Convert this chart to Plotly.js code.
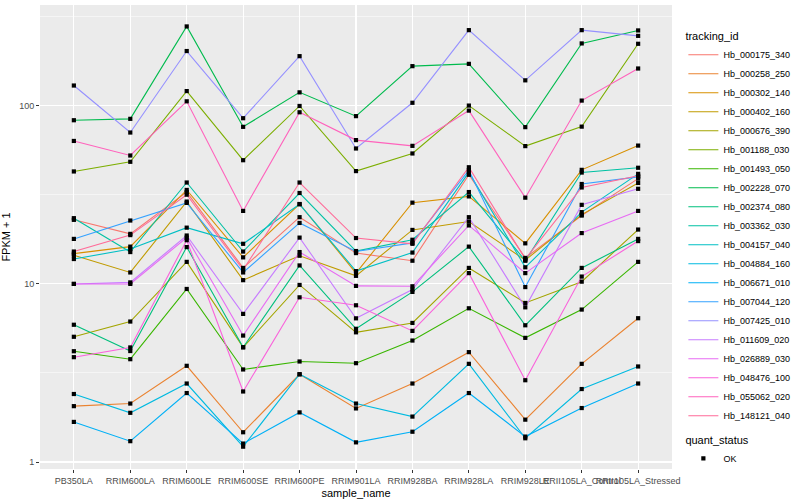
<!DOCTYPE html>
<html>
<head>
<meta charset="utf-8">
<script src="https://cdn.plot.ly/plotly-3.0.1.min.js"></script>
<style>
  html, body { margin: 0; padding: 0; background: #ffffff; }
  #chart { width: 800px; height: 500px; }
</style>
</head>
<body>
<div id="chart"></div>
<script>
// ---- Data (FPKM + 1) ----
const samples = ["PB350LA", "RRIM600LA", "RRIM600LE", "RRIM600SE", "RRIM600PE", "RRIM901LA",
                 "RRIM928BA", "RRIM928LA", "RRIM928LE", "RRII105LA_Control", "RRII105LA_Stressed"];

const trackingIds = ["Hb_000175_340", "Hb_000258_250", "Hb_000302_140", "Hb_000402_160", "Hb_000676_390",
                     "Hb_001188_030", "Hb_001493_050", "Hb_002228_070", "Hb_002374_080", "Hb_003362_030",
                     "Hb_004157_040", "Hb_004884_160", "Hb_006671_010", "Hb_007044_120", "Hb_007425_010",
                     "Hb_011609_020", "Hb_026889_030", "Hb_048476_100", "Hb_055062_020", "Hb_148121_040"];

const seriesColors = ["#F8766D", "#EA8331", "#D89000", "#C09B00", "#A3A500",
                      "#7CAE00", "#39B600", "#00BB4E", "#00BF7D", "#00C1A3",
                      "#00BFC4", "#00BAE0", "#00B0F6", "#35A2FF", "#9590FF",
                      "#C77CFF", "#E76BF3", "#FA62DB", "#FF62BC", "#FF6A98"];

const Hb_000175_340 = [22.9, 19.1, 32.8, 12.3, 23.7, 14.9, 13.5, 41.0, 14.0, 24.2, 39.0];
const Hb_000258_250 = [2.06, 2.13, 3.47, 1.47, 3.11, 2.0, 2.76, 4.14, 1.73, 3.56, 6.42];
const Hb_000302_140 = [14.8, 16.2, 33.7, 14.1, 28.1, 11.5, 28.6, 31.0, 16.9, 43.7, 59.8];
const Hb_000402_160 = [14.5, 11.6, 29.0, 10.5, 14.4, 11.1, 20.1, 22.4, 13.6, 24.5, 36.9];
const Hb_000676_390 = [5.05, 6.15, 13.3, 4.41, 9.87, 5.35, 6.04, 12.3, 7.82, 10.3, 20.2];
const Hb_001188_030 = [42.8, 48.5, 121, 49.5, 99.8, 43.0, 54.0, 100.3, 59.4, 76.4, 223];
const Hb_001493_050 = [4.19, 3.78, 9.37, 3.31, 3.67, 3.59, 4.81, 7.3, 4.98, 7.18, 13.3];
const Hb_002228_070 = [83, 84.5, 279, 76.2, 119, 87.5, 167, 172, 75.9, 224, 265];
const Hb_002374_080 = [5.9, 4.2, 16.1, 4.41, 12.7, 5.6, 9.02, 16.2, 5.86, 12.3, 17.9];
const Hb_003362_030 = [23.4, 15.1, 37.1, 15.2, 32.4, 15.3, 17.7, 32.8, 13.5, 42.2, 44.9];
const Hb_004157_040 = [13.8, 15.7, 20.7, 16.8, 28.0, 11.8, 15.0, 42.3, 12.4, 25.3, 41.5];
const Hb_004884_160 = [2.41, 1.89, 2.76, 1.22, 3.11, 2.13, 1.8, 3.56, 1.36, 2.57, 3.44];
const Hb_006671_010 = [1.68, 1.31, 2.44, 1.27, 1.9, 1.29, 1.48, 2.44, 1.39, 2.01, 2.76];
const Hb_007044_120 = [17.9, 22.7, 28.5, 11.6, 22.0, 15.2, 17.0, 43.5, 9.6, 36.4, 39.9];
const Hb_007425_010 = [130, 70.8, 203, 85.2, 190, 57.6, 104, 266, 139, 266, 247];
const Hb_011609_020 = [10.0, 10.2, 18.7, 6.79, 18.2, 6.41, 9.3, 23.7, 7.39, 27.8, 34.2];
const Hb_026889_030 = [10.0, 10.0, 18.2, 5.13, 15.1, 9.75, 9.7, 21.3, 11.5, 19.3, 25.7];
const Hb_048476_100 = [3.88, 4.4, 17.6, 2.49, 8.41, 7.59, 5.45, 11.5, 2.88, 11.0, 17.4];
const Hb_055062_020 = [63.5, 52.6, 106, 25.7, 92, 64.2, 59.6, 94, 30.5, 107, 162];
const Hb_148121_040 = [15.2, 18.8, 31.7, 12.0, 37.1, 18.1, 16.8, 45.2, 13.8, 34.8, 40.5];

const seriesValues = [Hb_000175_340, Hb_000258_250, Hb_000302_140, Hb_000402_160, Hb_000676_390,
                      Hb_001188_030, Hb_001493_050, Hb_002228_070, Hb_002374_080, Hb_003362_030,
                      Hb_004157_040, Hb_004884_160, Hb_006671_010, Hb_007044_120, Hb_007425_010,
                      Hb_011609_020, Hb_026889_030, Hb_048476_100, Hb_055062_020, Hb_148121_040];

const statusName = "OK";
const yTickVals = [1, 10, 100];
const yTickText = ["1", "10", "100"];
const yMinorVals = [Math.sqrt(10), Math.sqrt(1000), Math.sqrt(100000)];

// ---- Traces ----
const FONT = "Liberation Sans, Arial, sans-serif";
const traces = [];
trackingIds.forEach((id, i) => {
  traces.push({
    type: "scatter", mode: "lines", x: samples, y: seriesValues[i], name: id,
    line: { color: seriesColors[i], width: 1.1 }, legend: "legend", hoverinfo: "x+y+name"
  });
});
trackingIds.forEach((id, i) => {
  traces.push({
    type: "scatter", mode: "markers", x: samples, y: seriesValues[i], name: statusName,
    marker: { color: "#000000", symbol: "square", size: 4.2 },
    legend: "legend2", showlegend: i === 0, hoverinfo: "skip"
  });
});

const layout = {
  width: 800, height: 500,
  paper_bgcolor: "#FFFFFF", plot_bgcolor: "#EBEBEB",
  margin: { l: 40, r: 117, t: 5, b: 31 },
  font: { family: FONT, color: "#000000", size: 11 },
  xaxis: {
    type: "category", categoryorder: "array", categoryarray: samples,
    range: [-0.6, samples.length - 0.4],
    showgrid: true, gridcolor: "#FFFFFF", gridwidth: 1.1,
    zeroline: false, showline: false,
    ticks: "outside", ticklen: 3, tickcolor: "#333333", tickwidth: 1,
    tickangle: 0, tickfont: { family: FONT, size: 9, color: "#4D4D4D" },
    title: { text: "sample_name", font: { family: FONT, size: 11, color: "#000000" }, standoff: 4 },
    fixedrange: true
  },
  yaxis: {
    type: "log", range: [-0.039, 2.566],
    tickmode: "array", tickvals: yTickVals, ticktext: yTickText,
    showgrid: true, gridcolor: "#FFFFFF", gridwidth: 1.1,
    minor: { tickmode: "array", tickvals: yMinorVals, showgrid: true, gridcolor: "#FFFFFF", gridwidth: 0.5, ticklen: 0 },
    zeroline: false, showline: false,
    ticks: "outside", ticklen: 3, tickcolor: "#333333", tickwidth: 1,
    tickfont: { family: FONT, size: 9, color: "#4D4D4D" },
    title: { text: "FPKM + 1", font: { family: FONT, size: 11, color: "#000000" }, standoff: 10 },
    fixedrange: true
  },
  legend: {
    title: { text: "tracking_id", font: { family: FONT, size: 11, color: "#000000" } },
    font: { family: FONT, size: 9, color: "#000000" },
    x: 1.018, xanchor: "left", y: 0.955, yanchor: "top",
    bgcolor: "rgba(0,0,0,0)", itemwidth: 30, tracegroupgap: 0
  },
  legend2: {
    title: { text: "quant_status", font: { family: FONT, size: 11, color: "#000000" } },
    font: { family: FONT, size: 9, color: "#000000" },
    x: 1.018, xanchor: "left", y: 0.085, yanchor: "top",
    bgcolor: "rgba(0,0,0,0)", itemwidth: 30
  },
  showlegend: true
};

Plotly.newPlot("chart", traces, layout, { displayModeBar: false, staticPlot: true });
</script>
</body>
</html>
